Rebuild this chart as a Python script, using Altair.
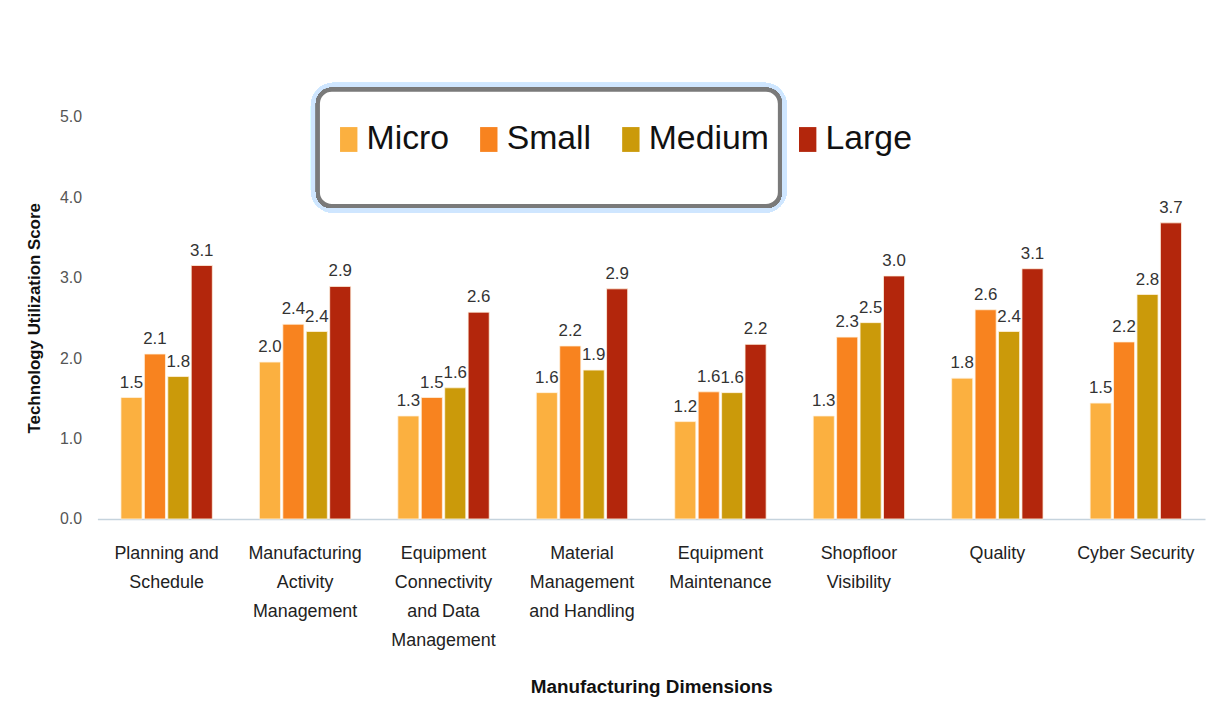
import altair as alt
import pandas as pd

categories = [
    "Planning and\nSchedule",
    "Manufacturing\nActivity\nManagement",
    "Equipment\nConnectivity\nand Data\nManagement",
    "Material\nManagement\nand Handling",
    "Equipment\nMaintenance",
    "Shopfloor\nVisibility",
    "Quality",
    "Cyber Security",
]
sizes = ["Micro", "Small", "Medium", "Large"]
colors = ["#FBB040", "#F8831F", "#CB9A0A", "#B3260C"]

micro = [1.51, 1.95, 1.28, 1.57, 1.21, 1.28, 1.75, 1.44]
small = [2.05, 2.42, 1.51, 2.15, 1.58, 2.26, 2.60, 2.20]
medium = [1.77, 2.33, 1.63, 1.85, 1.57, 2.44, 2.33, 2.79]
large = [3.15, 2.89, 2.57, 2.86, 2.17, 3.02, 3.11, 3.68]

micro_lbl = ["1.5", "2.0", "1.3", "1.6", "1.2", "1.3", "1.8", "1.5"]
small_lbl = ["2.1", "2.4", "1.5", "2.2", "1.6", "2.3", "2.6", "2.2"]
medium_lbl = ["1.8", "2.4", "1.6", "1.9", "1.6", "2.5", "2.4", "2.8"]
large_lbl = ["3.1", "2.9", "2.6", "2.9", "2.2", "3.0", "3.1", "3.7"]

rows = []
for s, vals, lbls in zip(sizes, [micro, small, medium, large],
                         [micro_lbl, small_lbl, medium_lbl, large_lbl]):
    for c, v, l in zip(categories, vals, lbls):
        rows.append({"dim": c, "size": s, "score": v, "label": l})
df = pd.DataFrame(rows)

FONT = "Liberation Sans"

x = alt.X(
    "dim:N", sort=categories,
    scale=alt.Scale(paddingInner=0.34, paddingOuter=0.17),
    axis=alt.Axis(
        title="Manufacturing Dimensions", labelAngle=0,
        labelExpr="split(datum.label, '\\n')",
        labelFont=FONT, labelFontSize=18, labelColor="#222222",
        labelLineHeight=29, labelPadding=26, labelLimit=200,
        ticks=False, domainColor="#c5d3dd", domainWidth=1.5,
        titleFont=FONT, titleFontSize=19, titleFontWeight="bold",
        titleColor="#111111", titlePadding=29,
    ),
)
xoff = alt.XOffset("size:N", sort=sizes, scale=alt.Scale(paddingInner=0.1))
y = alt.Y(
    "score:Q",
    scale=alt.Scale(domain=[0, 5]),
    axis=alt.Axis(
        title="Technology Utilization Score", values=[0, 1, 2, 3, 4, 5],
        format=".1f", grid=False, domain=False, ticks=False,
        labelFont=FONT, labelFontSize=16, labelColor="#555555", labelPadding=16,
        titleFont=FONT, titleFontSize=17, titleFontWeight="bold",
        titleColor="#111111", titlePadding=16,
    ),
)
color = alt.Color(
    "size:N", sort=sizes,
    scale=alt.Scale(domain=sizes, range=colors),
    legend=alt.Legend(
        title=None, orient="none", direction="horizontal",
        legendX=236, legendY=6,
        symbolType="M-0.7,-1H0.7V1H-0.7Z", symbolSize=625,
        symbolStrokeWidth=0, labelFont=FONT, labelFontSize=34,
        labelColor="#111111", labelOffset=1, columnPadding=22,
    ),
)

glow = alt.Chart(df).mark_rect(
    cornerRadius=16, fill="white", stroke="#cfe6ff", strokeWidth=14,
).encode(x=alt.value(222), x2=alt.value(687), y=alt.value(-27), y2=alt.value(90))
box = alt.Chart(df).mark_rect(
    cornerRadius=14, fill="white", stroke="#7a7a7a", strokeWidth=4,
).encode(x=alt.value(222), x2=alt.value(687), y=alt.value(-27), y2=alt.value(90))

bars = alt.Chart(df).mark_bar(stroke="#fff3e0", strokeWidth=0.8).encode(
    x=x, xOffset=xoff, y=y, color=color,
)
text = alt.Chart(df).mark_text(
    baseline="bottom", dy=-6, font=FONT, fontSize=17, color="#333333",
).encode(x=x, xOffset=xoff, y=y, text="label:N")

chart = alt.layer(glow, box, bars, text).properties(
    width=1115, height=405,
    autosize=alt.AutoSizeParams(type="none"),
    padding={"left": 90, "top": 107, "right": 4, "bottom": 200},
).configure(background="white").configure_view(stroke=None, strokeWidth=0)

chart.save("out.html", embed_options={"renderer": "svg", "actions": False})
